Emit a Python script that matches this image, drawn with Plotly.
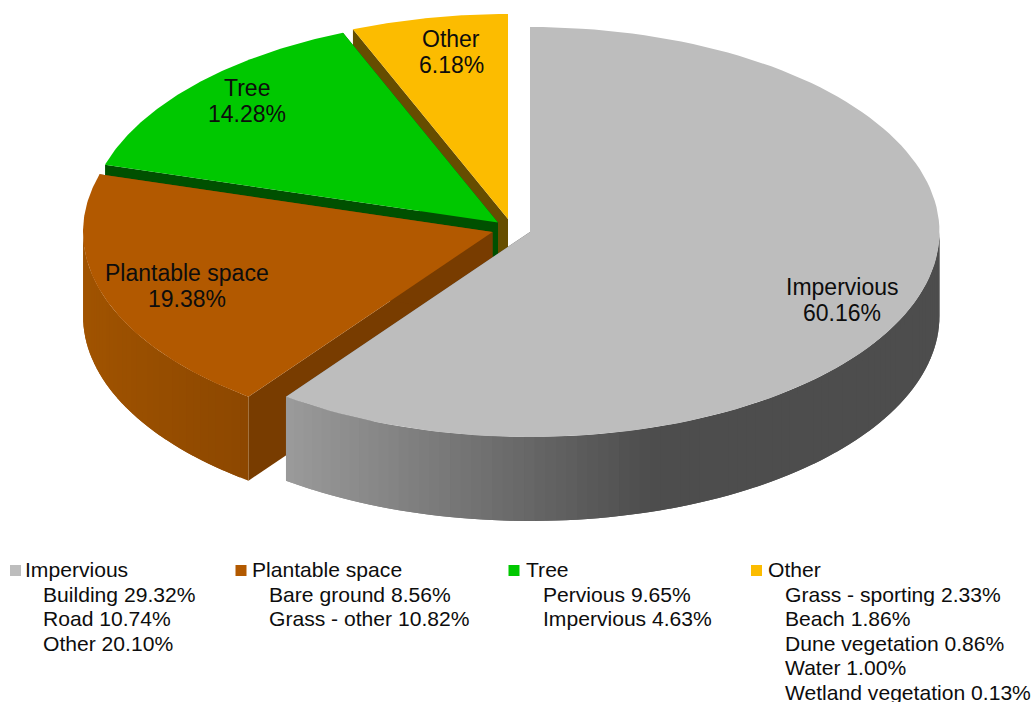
import math
import plotly.graph_objects as go

# === Data ===
categories = ["Impervious", "Plantable space", "Tree", "Other"]
values = [60.16, 19.38, 14.28, 6.18]
sub_names = [
    ["Building", "Road", "Other"],
    ["Bare ground", "Grass - other"],
    ["Pervious", "Impervious"],
    ["Grass - sporting", "Beach", "Dune vegetation", "Water", "Wetland vegetation"],
]
sub_values = [
    [29.32, 10.74, 20.10],
    [8.56, 10.82],
    [9.65, 4.63],
    [2.33, 1.86, 0.86, 1.00, 0.13],
]

# === Style ===
top_colors = ["#bdbdbd", "#b25900", "#00c800", "#fcbc00"]
cut_colors = ["#5a5a5a", "#783c00", "#005000", "#664d00"]
wall_left = [(154, 154, 154), (160, 83, 0)]  # colour at the left end of the round wall
wall_right = [(77, 77, 77), (140, 71, 0)]
wall_span = [(288, 650), (84, 249)]

RX, RY, DEPTH = 409.5, 205, 84
slice_centers = [(530, 232), (492.5, 232), (498, 222.5), (508, 219)]
label_pos = [(842, 287), (187, 273), (247, 88), (451, 39)]
LABEL_SIZE = 23
LEGEND_SIZE = 21.1
LEGEND_Y = 569.5
LEGEND_STEP = 24.5
legend_box_x = [15.5, 241, 514, 756.5]
legend_text_x = [23, 249.5, 524, 765.5]
legend_sub_x = [41, 267, 541, 783]


def ellipse(cx, cy, angle):
    a = math.radians(angle)
    return cx + RX * math.sin(a), cy - RY * math.cos(a)


def add_poly(fig, xs, ys, color):
    fig.add_trace(go.Scatter(
        x=xs, y=ys, mode="lines", fill="toself", fillcolor=color,
        line=dict(color=color, width=0), hoverinfo="skip", showlegend=False,
    ))


def arc(cx, cy, a0, a1, n):
    pts = [ellipse(cx, cy, a0 + (a1 - a0) * i / n) for i in range(n + 1)]
    return [p[0] for p in pts], [p[1] for p in pts]


fig = go.Figure()

# angles run clockwise from 12 o'clock
total = sum(values)
starts = [sum(values[:i]) / total * 360 for i in range(len(values))]
ends = [sum(values[:i + 1]) / total * 360 for i in range(len(values))]

# paint from back to front
for i in reversed(range(len(values))):
    cx, cy = slice_centers[i]
    a0, a1 = starts[i], ends[i]

    # flat cut faces
    for a in (a0, a1):
        ex, ey = ellipse(cx, cy, a)
        add_poly(fig, [cx, ex, ex, cx, cx], [cy, ey, ey + DEPTH, cy + DEPTH, cy], cut_colors[i])

    # round wall, only the front half shows; strips overlap so no seams appear
    w0, w1 = max(a0, 90), min(a1, 270)
    if w1 > w0:
        n = int((w1 - w0) / 1.5) + 1
        for k in range(n):
            b0 = w0 + (w1 - w0) * k / n
            b1 = w0 + (w1 - w0) * (k + 1) / n
            lo, hi = wall_span[i]
            xm = ellipse(cx, cy, (b0 + b1) / 2)[0]
            t = min(max((xm - lo) / (hi - lo), 0), 1)
            c = [round(wall_left[i][j] + (wall_right[i][j] - wall_left[i][j]) * t) for j in range(3)]
            xs, ys = arc(cx, cy, b0, min(b1 + 1.5, w1), 4)
            add_poly(fig, xs + xs[::-1] + [xs[0]], ys + [y + DEPTH for y in ys[::-1]] + [ys[0]],
                     f"rgb({c[0]},{c[1]},{c[2]})")

    # top face
    xs, ys = arc(cx, cy, a0, a1, 120)
    add_poly(fig, [cx] + xs + [cx], [cy] + ys + [cy], top_colors[i])

# legend squares
fig.add_trace(go.Scatter(
    x=legend_box_x, y=[LEGEND_Y + 1] * len(categories), mode="markers",
    marker=dict(symbol="square", size=11, color=top_colors),
    hoverinfo="skip", showlegend=False,
))


def add_text(x, y, text, size, anchor):
    fig.add_annotation(
        x=x, y=y, text=text, showarrow=False, xanchor=anchor, yanchor="middle",
        font=dict(family="Liberation Sans", size=size, color="#0d0d0d"),
    )


for i, name in enumerate(categories):
    lx, ly = label_pos[i]
    add_text(lx, ly, name, LABEL_SIZE, "center")
    add_text(lx, ly + 25.5, f"{values[i]:.2f}%", LABEL_SIZE, "center")
    add_text(legend_text_x[i], LEGEND_Y, name, LEGEND_SIZE, "left")
    for j, sub in enumerate(sub_names[i]):
        add_text(legend_sub_x[i], LEGEND_Y + LEGEND_STEP * (j + 1),
                 f"{sub} {sub_values[i][j]:.2f}%", LEGEND_SIZE, "left")

fig.update_layout(
    width=1033, height=702, margin=dict(l=0, r=0, t=0, b=0),
    paper_bgcolor="white", plot_bgcolor="white", showlegend=False,
    xaxis=dict(range=[0, 1033], visible=False, fixedrange=True),
    yaxis=dict(range=[702, 0], visible=False, fixedrange=True),
)

fig.write_html("out.html", config={"displayModeBar": False},
               post_script="document.body.style.margin='0';document.body.style.overflow='hidden';")
